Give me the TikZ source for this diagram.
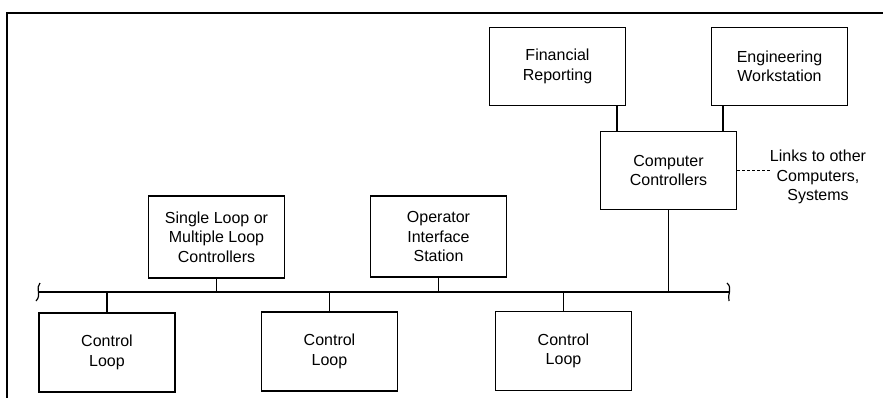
\documentclass[tikz,border=0pt]{standalone}
\usepackage{fontspec}
\setmainfont{Liberation Sans}
\begin{document}
\begin{tikzpicture}[x=1pt,y=-1pt,
  box/.style={draw, line width=1.6pt, minimum width=136pt, minimum height=78pt,
    align=center, font=\fontsize{16}{19.5}\selectfont, inner sep=0pt},
  conn/.style={line width=1.3pt},
  lbl/.style={align=center, font=\fontsize{16}{19.5}\selectfont, inner sep=0pt}]
\useasboundingbox (0,0) rectangle (883,398);
% frame
\draw[line width=1.6pt] (7,398) -- (7,13) -- (883,13);
% upper nodes
\node[box] (fin) at (557.5,66.5) {Financial\\Reporting};
\node[box] (eng) at (779.5,66.5) {Engineering\\Workstation};
\node[box] (comp) at (668.5,170.5) {Computer\\Controllers};
\node[lbl] (links) at (818,177) {Links to other\\Computers,\\Systems};
\node[box, minimum height=82pt] (sl) at (216.5,237) {Single Loop or\\Multiple Loop\\Controllers};
\node[box, minimum height=81pt] (ois) at (438.5,236.5) {Operator\\Interface\\Station};
\node[box, minimum height=79pt] (cl1) at (107,352.5) {Control\\Loop};
\node[box, minimum height=79pt] (cl2) at (329.5,351.5) {Control\\Loop};
\node[box, minimum height=79pt] (cl3) at (563.5,351) {Control\\Loop};
% bus
\coordinate (busL) at (39,292);
\coordinate (busR) at (730,292);
\draw[conn] (busL) -- (busR);
\draw[line width=1.2pt] (40,283) .. controls (35,288) and (42,295) .. (36,301);
\draw[line width=1.2pt] (727,283) .. controls (733,288) and (727,295) .. (729,301);
% connectors
\draw[conn] ([xshift=59.5pt]fin.south) -- ([xshift=59.5pt]fin.south |- comp.north);
\draw[conn] ([xshift=-56.5pt]eng.south) -- ([xshift=-56.5pt]eng.south |- comp.north);
\draw[conn] (comp.south) -- (comp.south |- busL);
\draw[conn] (sl.south) -- (sl.south |- busL);
\draw[conn] (ois.south) -- (ois.south |- busL);
\draw[conn] (cl1.north) -- (cl1.north |- busL);
\draw[conn] (cl2.north) -- (cl2.north |- busL);
\draw[conn] (cl3.north) -- (cl3.north |- busL);
\draw[line width=1pt, dash pattern=on 3pt off 2pt] (comp.east) -- (links.west |- comp.east);
\end{tikzpicture}
\end{document}
